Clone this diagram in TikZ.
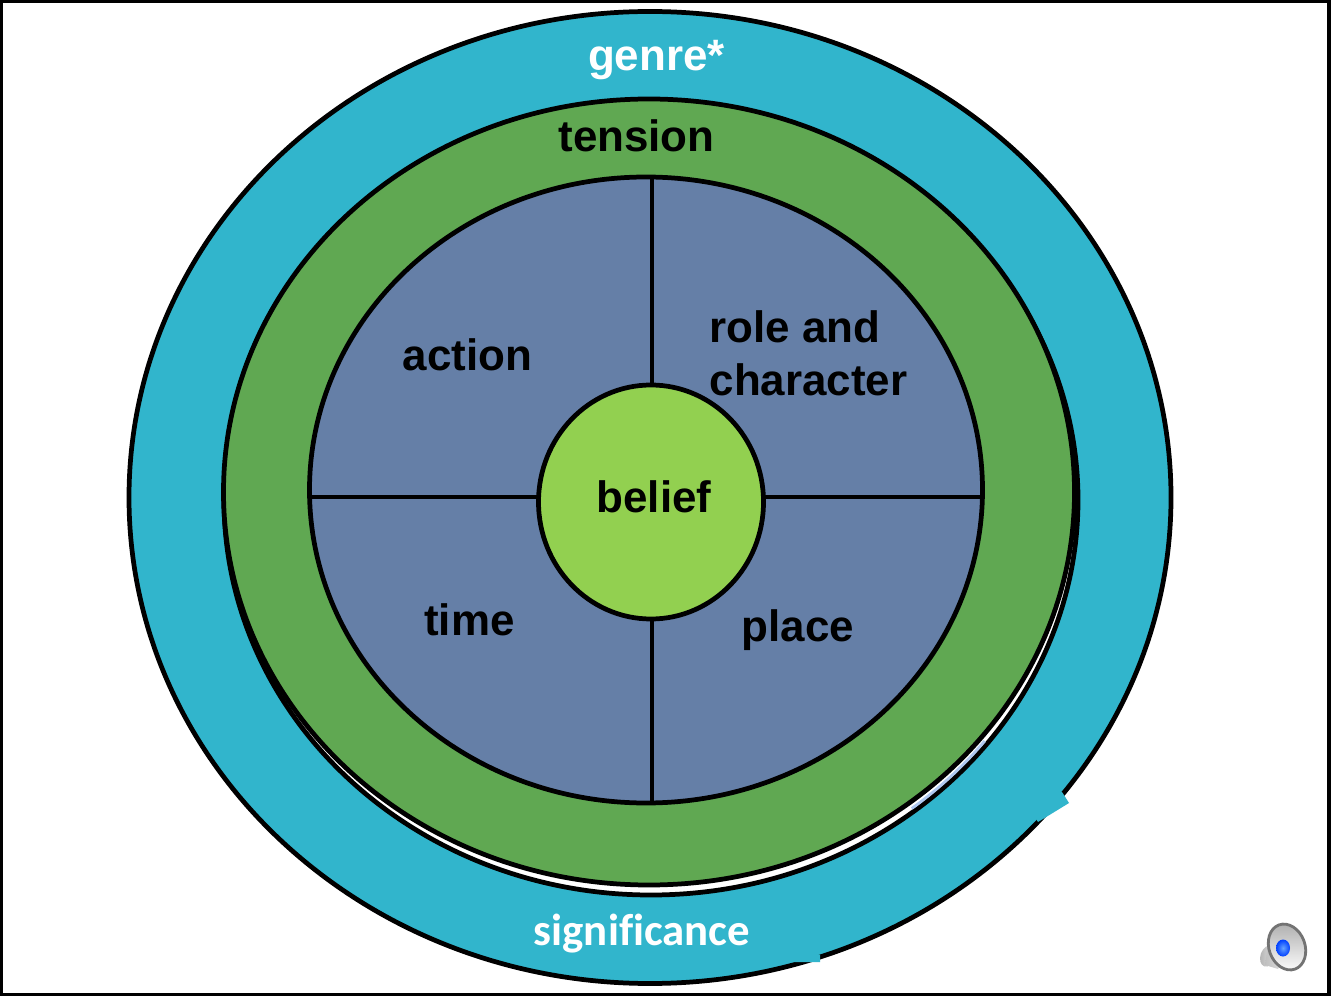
\documentclass[tikz,border=0pt]{standalone}
\usepackage{fontspec}
\setmainfont{Liberation Sans}
\newfontfamily\signfont[Ligatures=NoCommon]{Carlito}
\usetikzlibrary{shapes.geometric}

\definecolor{genreblue}{RGB}{49,181,204}
\definecolor{tensiongreen}{RGB}{96,168,82}
\definecolor{slateblue}{RGB}{101,127,167}
\definecolor{beliefgreen}{RGB}{146,208,80}
\definecolor{gapblue}{RGB}{175,200,240}

\begin{document}
\begin{tikzpicture}[font=\bfseries]

% ---- Define Styles ----
\tikzset{
  ring/.style={
    ellipse, draw=black, line width=2.7pt, inner sep=0pt, outer sep=0pt
  },
  darklabel/.style={font=\fontsize{25}{30}\selectfont\bfseries, text=black, align=left},
  whitelabel/.style={font=\fontsize{25}{30}\selectfont\bfseries, text=white},
  signlabel/.style={font=\signfont\fontsize{25.5}{30}\selectfont\bfseries, text=white},
  divider/.style={draw=black, line width=2.4pt}
}

% page and frame (50 px = 1 cm)
\useasboundingbox (0,0) rectangle (26.62,19.94);
\fill[white] (0,0) rectangle (26.62,19.94);
\draw[black, line width=2.2pt] (0.02,0.05) rectangle (26.58,19.92);

% ---- Rings ----
\node[ring, fill=genreblue, minimum width=20.84cm, minimum height=19.44cm] (genrering) at (13.00,9.99) {};
\node[ring, fill=white, minimum width=17.08cm, minimum height=15.80cm] (backring) at (13.02,9.94) {};
\draw[gapblue, line width=1.6pt] (13.02,9.94) ++(-52:8.47 and 7.83) arc[start angle=-52, end angle=-38, x radius=8.47, y radius=7.83];
\node[ring, fill=tensiongreen, minimum width=17.02cm, minimum height=15.72cm] (tensionring) at (12.98,10.10) {};
\node[ring, fill=slateblue, minimum width=13.46cm, minimum height=12.52cm] (inner) at (12.92,10.14) {};

% ---- Dividers ----
\coordinate (innertop) at (13.04,16.42);
\coordinate (innerbottom) at (13.04,3.88);
\coordinate (innerleft) at (6.20,10.00);
\coordinate (innerright) at (19.64,10.00);
\node[ring, fill=beliefgreen, minimum width=4.50cm, minimum height=4.68cm] (belief) at (13.02,9.90) {};
\draw[divider] (innertop) -- (innertop |- belief.north);
\draw[divider] (innerbottom) -- (innerbottom |- belief.south);
\draw[divider] (innerleft) -- (innerleft -| belief.west);
\draw[divider] (innerright) -- (innerright -| belief.east);

% ---- Patches over the outer line ----
\fill[genreblue] (21.24,4.10) -- (21.38,3.88) -- (20.76,3.50) -- (20.50,3.90) -- cycle;
\fill[genreblue] (16.40,0.84) -- (16.40,0.70) -- (15.80,0.70) -- (15.60,0.86) -- cycle;

% ---- Labels ----
\node[whitelabel] (genre) at (13.13,18.73) {genre*};
\node[darklabel] (tension) at (12.73,17.22) {tension};
\node[darklabel] (action) at (9.35,12.84) {action};
\node[darklabel, anchor=west] (role) at (14.07,12.87) {role and\\character};
\node[darklabel] (beliefword) at (13.08,10.00) {belief};
\node[darklabel] (time) at (9.39,7.54) {time};
\node[darklabel] (place) at (15.96,7.34) {place};
\node[signlabel] (significance) at (12.84,1.26) {significance};

% ---- Speaker icon ----
\shade[left color=gray!60, right color=gray!15, rotate around={-20:(25.36,0.82)}]
  (25.36,0.82) ellipse (0.15 and 0.22);
\shade[left color=gray!50, right color=gray!10] (25.30,0.64) -- (25.56,0.56) -- (25.90,1.10) -- (25.36,1.04) -- cycle;
\shade[draw=gray!90!black, line width=1.6pt, top color=gray!65, bottom color=white, rotate around={20:(25.74,1.00)}]
  (25.74,1.00) ellipse (0.36 and 0.47);
\shade[inner color=cyan!40!blue!60, outer color=blue!75!cyan] (25.66,0.98) ellipse (0.14 and 0.17);

\end{tikzpicture}
\end{document}
